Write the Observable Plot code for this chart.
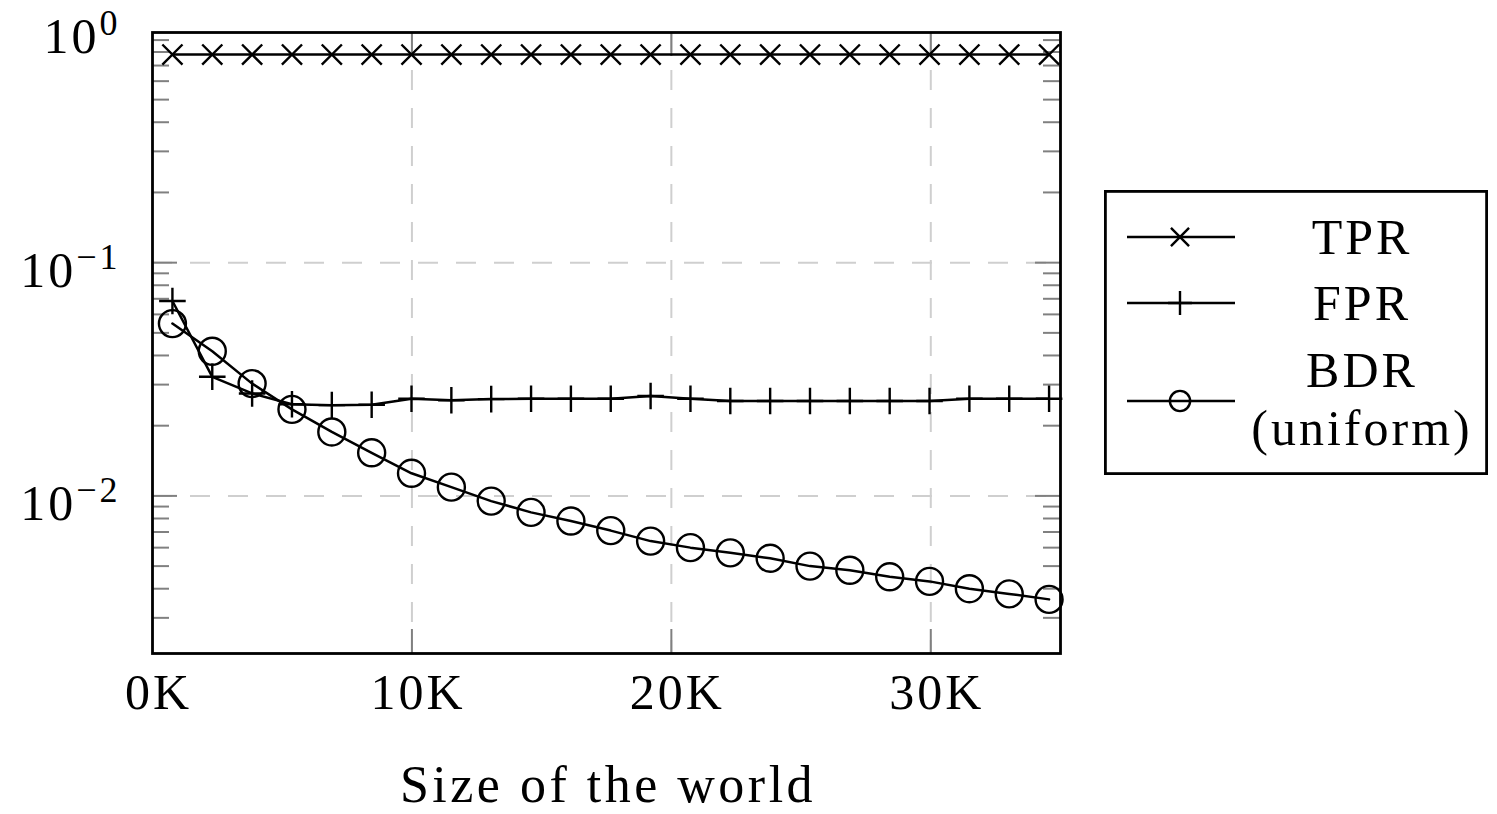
<!DOCTYPE html>
<html><head><meta charset="utf-8">
<script src="https://cdn.jsdelivr.net/npm/d3@7"></script>
<script src="https://cdn.jsdelivr.net/npm/@observablehq/plot@0.6"></script>
<style>
body{margin:0;background:#fff;}
#wrap{position:relative;width:1497px;height:814px;}
#legend{position:absolute;left:1104px;top:190px;}
</style></head><body><div id="wrap"></div>
<script>
// ---- data ----
const sizes = [768, 2304, 3840, 5376, 6912, 8448, 9984, 11520, 13056, 14592, 16128, 17664,
               19200, 20736, 22272, 23808, 25344, 26880, 28416, 29952, 31488, 33024, 34560];
const tpr = [0.78, 0.78, 0.78, 0.78, 0.78, 0.78, 0.78, 0.78, 0.78, 0.78, 0.78, 0.78,
             0.78, 0.78, 0.78, 0.78, 0.78, 0.78, 0.78, 0.78, 0.78, 0.78, 0.78];
const fpr = [0.0685, 0.0324, 0.0275, 0.0247, 0.0245, 0.0246, 0.0261, 0.0257, 0.0260, 0.0261, 0.0261, 0.0261,
             0.0268, 0.0261, 0.0255, 0.0255, 0.0255, 0.0255, 0.0255, 0.0255, 0.0261, 0.0261, 0.0261];
const bdr = [0.0548, 0.0417, 0.0303, 0.0235, 0.0188, 0.0153, 0.0125, 0.0109, 0.0095, 0.0085, 0.0078, 0.0071,
             0.0064, 0.0060, 0.0057, 0.0054, 0.0050, 0.0048, 0.0045, 0.0043, 0.0040, 0.0038, 0.0036];
const seriesNames = ["TPR", "FPR", "BDR"];
const legendLabels = [["TPR"], ["FPR"], ["BDR", "(uniform)"]];
const xTickValues = [0, 10000, 20000, 30000];
const xTickLabels = ["0K", "10K", "20K", "30K"];
const xGridValues = [10000, 20000, 30000];
const yTickValues = [1, 0.1, 0.01];
const yTickExponents = ["0", "\u22121", "\u22122"];
const yGridValues = [0.1, 0.01];
const yMinorValues = [0.003, 0.004, 0.005, 0.006, 0.007, 0.008, 0.009,
                      0.02, 0.03, 0.04, 0.05, 0.06, 0.07, 0.08, 0.09,
                      0.2, 0.3, 0.4, 0.5, 0.6, 0.7, 0.8, 0.9];
const xLabel = "Size of the world";

// ---- build ----
const valuesByName = {TPR: tpr, FPR: fpr, BDR: bdr};
const symbolByName = {TPR: "times", FPR: "plus", BDR: "circle"};
const rByName = {TPR: 9.2, FPR: 8.6, BDR: 13.5};
const rows = seriesNames.flatMap(name => sizes.map((x, i) => ({x, y: valuesByName[name][i], name})));

const W = 1497, H = 814, mL = 152, mT = 32, mR = 437, mB = 161;
const pw = W - mL - mR, ph = H - mT - mB;
const FONT = "Liberation Serif";
const tickColor = "#808080";

const plot = Plot.plot({
  width: W, height: H,
  marginLeft: mL, marginTop: mT, marginRight: mR, marginBottom: mB,
  style: {fontFamily: FONT, fontSize: "50px", background: "white", color: "black", overflow: "visible", letterSpacing: "3px"},
  x: {domain: [0, 35000]},
  y: {type: "log", domain: [0.00211, 0.97]},
  marks: [
    Plot.ruleX(xGridValues, {x: d => d, stroke: "#cfcfcf", strokeWidth: 2, strokeDasharray: "20,18"}),
    Plot.ruleY(yGridValues, {y: d => d, stroke: "#cfcfcf", strokeWidth: 2, strokeDasharray: "20,18"}),
    Plot.tickY(yMinorValues, {y: d => d, stroke: tickColor, strokeWidth: 2, insetRight: pw - 17}),
    Plot.tickY(yMinorValues, {y: d => d, stroke: tickColor, strokeWidth: 2, insetLeft: pw - 17}),
    Plot.tickY(yGridValues, {y: d => d, stroke: tickColor, strokeWidth: 2, insetRight: pw - 25}),
    Plot.tickY(yGridValues, {y: d => d, stroke: tickColor, strokeWidth: 2, insetLeft: pw - 25}),
    Plot.tickX(xGridValues, {x: d => d, stroke: tickColor, strokeWidth: 2, insetTop: ph - 24}),
    Plot.tickX(xGridValues, {x: d => d, stroke: tickColor, strokeWidth: 2, insetBottom: ph - 24}),
    Plot.line(rows, {x: "x", y: "y", z: "name", stroke: "black", strokeWidth: 2.5}),
    ...seriesNames.map(name => Plot.dot(rows.filter(d => d.name === name), {
      x: "x", y: "y", symbol: symbolByName[name], r: rByName[name],
      stroke: "black", strokeWidth: 2.4, fill: "none"
    })),
    Plot.frame({stroke: "black", strokeWidth: 2.8}),
    Plot.axisX({ticks: xTickValues, tickSize: 0, tickPadding: 20,
      tickFormat: (d) => xTickLabels[xTickValues.indexOf(d)], dx: 6,
      label: null}),
    Plot.axisY({ticks: yTickValues, tickSize: 0, tickPadding: 32, tickFormat: d => "10", label: null, dy: 8})
  ]
});

// superscript exponents on the y tick labels
d3.select(plot).selectAll('g[aria-label="y-axis tick label"] text').each(function(d, i) {
  const t = d3.select(this);
  t.text("10");
  t.append("tspan").attr("dy", "-0.5em").attr("font-size", "0.72em").text(yTickExponents[i]);
});

// x-axis title below the plot area, centred on the frame
d3.select(plot).append("text")
  .attr("x", mL + pw / 2 + 2).attr("y", H - 12)
  .attr("text-anchor", "middle")
  .style("font-size", "52px")
  .style("letter-spacing", "3.5px")
  .text(xLabel);

const wrap = document.getElementById("wrap");
wrap.appendChild(plot);

// ---- legend ----
const LW = 384, LH = 285;
const leg = d3.create("svg").attr("id", "legend").attr("width", LW).attr("height", LH)
  .style("font-family", FONT).style("font-size", "50px").style("letter-spacing", "3px");
leg.append("rect").attr("x", 1.4).attr("y", 1.4).attr("width", LW - 2.8).attr("height", LH - 2.8)
  .attr("fill", "white").attr("stroke", "black").attr("stroke-width", 2.8);
const sampleY = [47, 113, 211];
const textY = [[47], [113], [180, 238]];
const symMap = {times: d3.symbolTimes, plus: d3.symbolPlus, circle: d3.symbolCircle};
seriesNames.forEach((name, k) => {
  const g = leg.append("g");
  g.append("line").attr("x1", 23).attr("x2", 131).attr("y1", sampleY[k]).attr("y2", sampleY[k])
    .attr("stroke", "black").attr("stroke-width", 2.5);
  const r = rByName[name] * (name === "BDR" ? 0.75 : 0.9);
  g.append("path").attr("d", d3.symbol(symMap[symbolByName[name]], Math.PI * r * r)())
    .attr("transform", `translate(76,${sampleY[k]})`)
    .attr("fill", "none").attr("stroke", "black").attr("stroke-width", 2.4);
  legendLabels[k].forEach((s, j) => {
    g.append("text").attr("x", 258).attr("y", textY[k][j]).attr("text-anchor", "middle")
      .attr("dy", "0.34em").text(s);
  });
});
wrap.appendChild(leg.node());
</script>
</body></html>
